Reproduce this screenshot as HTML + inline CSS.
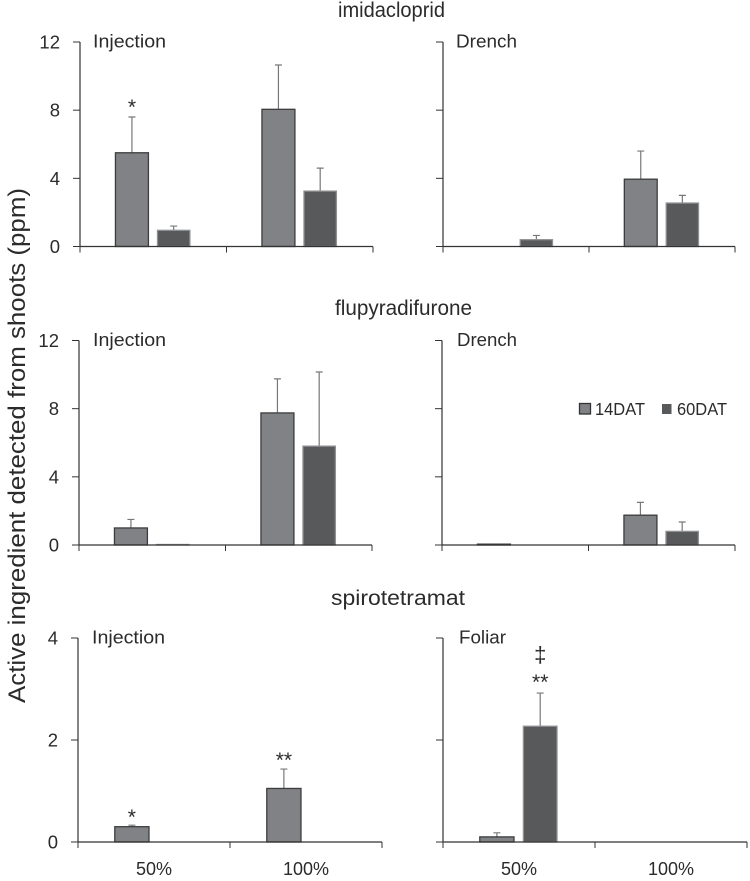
<!DOCTYPE html>
<html lang="en">
<head>
<meta charset="utf-8">
<title>Active ingredient detected from shoots</title>
<style>
html,body{margin:0;padding:0;background:#fff;width:750px;height:881px;overflow:hidden}
svg{display:block}
text{font-family:"Liberation Sans",sans-serif;fill:#2b2b2b}
</style>
</head>
<body>
<svg id="chart" xmlns="http://www.w3.org/2000/svg" width="750" height="881" viewBox="0 0 750 881">
  <text transform="translate(25,703) rotate(-90)" font-size="24.5" textLength="515" lengthAdjust="spacingAndGlyphs">Active ingredient detected from shoots (ppm)</text>
  <text x="338" y="17" font-size="21" textLength="107" lengthAdjust="spacingAndGlyphs">imidacloprid</text>
  <text x="335" y="315" font-size="21" textLength="137" lengthAdjust="spacingAndGlyphs">flupyradifurone</text>
  <text x="331" y="605" font-size="21" textLength="134" lengthAdjust="spacingAndGlyphs">spirotetramat</text>
  <g>
    <rect x="579.5" y="403.5" width="11" height="10.5" fill="#808285" stroke="#333" stroke-width="1.3"/>
    <text x="595" y="415" font-size="17.5" textLength="50" lengthAdjust="spacingAndGlyphs">14DAT</text>
    <rect x="662" y="404" width="9.5" height="10" fill="#58595b"/>
    <text x="677" y="415" font-size="17.5" textLength="50" lengthAdjust="spacingAndGlyphs">60DAT</text>
  </g>
</svg>
<script>
const categories = ['50%', '100%'];
const ticksTop = [0, 4, 8, 12];
const ticksBottom = [0, 2, 4];

const imiInjection14 = [5.5, 8.05];
const imiInjection14Err = [7.6, 10.65];
const imiInjection60 = [0.95, 3.25];
const imiInjection60Err = [1.2, 4.6];

const imiDrench14 = [0, 3.95];
const imiDrench14Err = [0, 5.6];
const imiDrench60 = [0.4, 2.55];
const imiDrench60Err = [0.65, 3.0];

const fluInjection14 = [1.0, 7.75];
const fluInjection14Err = [1.5, 9.75];
const fluInjection60 = [0.03, 5.8];
const fluInjection60Err = [0.03, 10.15];

const fluDrench14 = [0.05, 1.75];
const fluDrench14Err = [0.05, 2.5];
const fluDrench60 = [0, 0.8];
const fluDrench60Err = [0, 1.35];

const spiInjection14 = [0.3, 1.05];
const spiInjection14Err = [0.33, 1.43];
const spiInjection60 = [0, 0];
const spiInjection60Err = [0, 0];

const spiFoliar14 = [0.1, 0];
const spiFoliar14Err = [0.18, 0];
const spiFoliar60 = [2.27, 0];
const spiFoliar60Err = [2.92, 0];

const NS = 'http://www.w3.org/2000/svg';
const svg = document.getElementById('chart');

function make(tag, attrs, parent) {
  const el = document.createElementNS(NS, tag);
  Object.keys(attrs).forEach(function (k) { el.setAttribute(k, attrs[k]); });
  parent.appendChild(el);
  return el;
}

function drawPanel(p) {
  const g = make('g', {}, svg);
  
  

  const width = p.x1 - p.x0;
  const xBand = function (i) { return p.x0 + width / categories.length * i; };
  const bandW = width / categories.length;
  const y = function (v) { return p.y0 - v / p.max * (p.y0 - p.yTop); };
  const axisColor = '#333';

  const label = make('text', { x: p.labelX, y: p.yTop + 5.5, 'font-size': 18.5 }, g);
  
  
  label.setAttribute('textLength', p.labelW);
  label.setAttribute('lengthAdjust', 'spacingAndGlyphs');
  label.textContent = p.label;

  const series = [
    { vals: p.s14, errs: p.e14, from: 0.242, to: 0.467, fill: '#808285', stroke: '#3c3c3c', key: '14dat' },
    { vals: p.s60, errs: p.e60, from: 0.529, to: 0.75, fill: '#58595b', stroke: '#8f9092', key: '60dat' }
  ];

  series.forEach(function (s) {
    s.vals.forEach(function (v, i) {
      if (v <= 0) return;
      const xa = xBand(i) + s.from * bandW;
      const xb = xBand(i) + s.to * bandW;
      const cx = (xa + xb) / 2;
      const top = y(s.errs[i]);
      if (s.errs[i] > v) {
        const err = make('path', {
          d: 'M' + cx + ' ' + y(v) + 'V' + top + 'M' + (cx - 3.5) + ' ' + top + 'H' + (cx + 3.5),
          fill: 'none', stroke: '#77787a', 'stroke-width': 1.2
        }, g);
        
        
      }
      const bar = make('rect', {
        x: xa, y: y(v), width: xb - xa, height: p.y0 - y(v),
        fill: s.fill, stroke: s.stroke, 'stroke-width': 1.3
      }, g);
      
      
    });
  });

  const yAxis = make('line', { x1: p.x0, x2: p.x0, y1: p.yTop, y2: p.y0, stroke: axisColor, 'stroke-width': 1.2 }, g);
  
  
  const xAxis = make('line', { x1: p.x0, x2: p.x1, y1: p.y0, y2: p.y0, stroke: axisColor, 'stroke-width': 1.2 }, g);
  
  

  p.ticks.forEach(function (t) {
    const tick = make('line', { x1: p.x0 - 7, x2: p.x0, y1: y(t), y2: y(t), stroke: axisColor, 'stroke-width': 1 }, g);
    
    
    if (p.showY) {
      const tl = make('text', { x: p.x0 - 20, y: y(t) + 6.5, 'text-anchor': 'end', 'font-size': 18.5 }, g);
      
      
      tl.textContent = t;
    }
  });

  for (let i = 0; i <= categories.length; i++) {
    const xt = make('line', { x1: xBand(i), x2: xBand(i), y1: p.y0, y2: p.y0 + 6, stroke: axisColor, 'stroke-width': 1 }, g);
    
    
  }

  if (p.showX) {
    categories.forEach(function (c, i) {
      const xl = make('text', { x: xBand(i) + bandW / 2, y: 875, 'text-anchor': 'middle', 'font-size': 18 }, g);
      
      
      xl.textContent = c;
    });
  }

  (p.notes || []).forEach(function (n) {
    const s = series[n.series];
    const cx = xBand(n.cat) + (s.from + s.to) / 2 * bandW;
    const a = make('text', { x: cx, y: y(s.errs[n.cat]) - n.gap, 'text-anchor': 'middle', 'font-size': n.size || 21 }, g);
    
    
    a.textContent = n.text;
  });
}

drawPanel({ id: 'imidacloprid-injection', x0: 80, x1: 373, y0: 246.5, yTop: 42, max: 12, ticks: ticksTop, showY: true, showX: false,
  label: 'Injection', labelX: 93, labelW: 73,
  s14: imiInjection14, e14: imiInjection14Err, s60: imiInjection60, e60: imiInjection60Err,
  notes: [{ series: 0, cat: 0, text: '*', gap: 3 }] });
drawPanel({ id: 'imidacloprid-drench', x0: 443, x1: 735, y0: 246.5, yTop: 42, max: 12, ticks: ticksTop, showY: false, showX: false,
  label: 'Drench', labelX: 456, labelW: 61,
  s14: imiDrench14, e14: imiDrench14Err, s60: imiDrench60, e60: imiDrench60Err });
drawPanel({ id: 'flupyradifurone-injection', x0: 79, x1: 372, y0: 545, yTop: 340.5, max: 12, ticks: ticksTop, showY: true, showX: false,
  label: 'Injection', labelX: 93, labelW: 73,
  s14: fluInjection14, e14: fluInjection14Err, s60: fluInjection60, e60: fluInjection60Err });
drawPanel({ id: 'flupyradifurone-drench', x0: 442, x1: 735, y0: 545, yTop: 340.5, max: 12, ticks: ticksTop, showY: false, showX: false,
  label: 'Drench', labelX: 457, labelW: 60,
  s14: fluDrench14, e14: fluDrench14Err, s60: fluDrench60, e60: fluDrench60Err });
drawPanel({ id: 'spirotetramat-injection', x0: 78, x1: 382, y0: 842, yTop: 638, max: 4, ticks: ticksBottom, showY: true, showX: true,
  label: 'Injection', labelX: 92, labelW: 73,
  s14: spiInjection14, e14: spiInjection14Err, s60: spiInjection60, e60: spiInjection60Err,
  notes: [{ series: 0, cat: 0, text: '*', gap: 1 }, { series: 0, cat: 1, text: '**', gap: 2 }] });
drawPanel({ id: 'spirotetramat-foliar', x0: 443, x1: 747, y0: 842, yTop: 638, max: 4, ticks: ticksBottom, showY: false, showX: true,
  label: 'Foliar', labelX: 459, labelW: 47,
  s14: spiFoliar14, e14: spiFoliar14Err, s60: spiFoliar60, e60: spiFoliar60Err,
  notes: [{ series: 1, cat: 0, text: '**', gap: 4 }, { series: 1, cat: 0, text: '\u2021', gap: 31, size: 22 }] });
</script>
</body>
</html>
